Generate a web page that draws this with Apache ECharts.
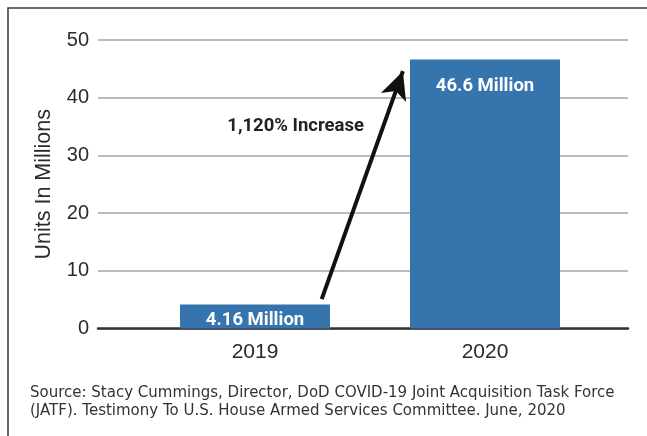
<!DOCTYPE html>
<html>
<head>
<meta charset="utf-8">
<style>
  html, body { margin: 0; padding: 0; background: #ffffff; }
  #chart { width: 647px; height: 436px; }
</style>
<script src="https://cdn.jsdelivr.net/npm/echarts@6/dist/echarts.min.js"></script>
</head>
<body>
<div id="chart"></div>
<script>
// Units delivered, in millions
const years = ['2019', '2020'];
const units = [4.16, 46.6];
const valueLabels = ['4.16 Million', '46.6 Million'];
const yTicks = [0, 10, 20, 30, 40, 50];

// Growth arrow, from the 2019 bar up to the 2020 bar (x in category index, y in millions)
const arrowFrom = [0.29, 5.1];
const arrowTo = [0.643, 44.6];
const arrowText = '1,120% Increase';

const sourceLines = [
  'Source: Stacy Cummings, Director, DoD COVID-19 Joint Acquisition Task Force',
  '(JATF). Testimony To U.S. House Armed Services Committee. June, 2020'
];

const BLUE = '#3674ad';
const TEXT = '#2b2b2b';
const LABEL_FONT = 'Liberation Sans';
const BOLD_FONT = 'Roboto';
const NOTE_FONT = 'DejaVu Sans';

const chart = echarts.init(document.getElementById('chart'), null, { renderer: 'canvas' });

chart.setOption({
  animation: false,
  backgroundColor: '#ffffff',
  grid: { left: 98, right: 19, top: 40, bottom: 107.5, containLabel: false },
  xAxis: {
    type: 'value',
    min: -0.6826,
    max: 1.6217,
    splitLine: { show: false },
    axisTick: { show: false },
    axisLine: { show: true, onZero: false, lineStyle: { color: '#333333', width: 2.5 } },
    axisLabel: {
      customValues: [0, 1],
      formatter: v => years[Math.round(v)] || '',
      color: TEXT,
      fontFamily: LABEL_FONT,
      fontSize: 21,
      margin: 13
    }
  },
  yAxis: {
    type: 'value',
    min: yTicks[0],
    max: yTicks[yTicks.length - 1],
    interval: 10,
    name: 'Units In Millions',
    nameLocation: 'middle',
    nameGap: 43,
    nameTextStyle: { color: TEXT, fontFamily: LABEL_FONT, fontSize: 21.5 },
    axisLine: { show: false },
    axisTick: { show: false },
    axisLabel: { color: TEXT, fontFamily: LABEL_FONT, fontSize: 20, margin: 9 },
    splitLine: {
      show: true,
      lineStyle: { color: '#babac0', width: 2 }
    }
  },
  series: [{
    type: 'bar',
    data: units.map((v, i) => [i, v]),
    barWidth: 150,
    itemStyle: { color: BLUE },
    label: {
      show: true,
      position: 'insideTop',
      formatter: p => valueLabels[p.dataIndex],
      color: '#ffffff',
      fontFamily: BOLD_FONT,
      fontWeight: 'bold',
      fontSize: 18.5
    },
    labelLayout: p => (p.dataIndex === 1 ? { dy: 12 } : { dy: 1 }),
    markLine: {
      silent: true,
      symbol: ['none', 'arrow'],
      symbolSize: [20, 28],
      lineStyle: { color: '#111111', width: 4, type: 'solid' },
      label: { show: false },
      data: [[{ coord: arrowFrom }, { coord: arrowTo }]]
    },
    z: 2
  }],
  graphic: [
    {
      type: 'rect',
      shape: { x: 8, y: 8, width: 700, height: 500 },
      style: { fill: 'none', stroke: '#3a3a3a', lineWidth: 1.5 },
      silent: true,
      z: -1
    },
    {
      type: 'text',
      right: 647 - 364,
      top: 117,
      style: {
        text: arrowText,
        fill: '#222222',
        font: 'bold 18.5px ' + BOLD_FONT
      }
    },
    {
      type: 'text',
      left: 30,
      top: 384,
      style: {
        text: sourceLines.join('\n'),
        fill: '#333333',
        font: '15px ' + NOTE_FONT,
        lineHeight: 18
      }
    }
  ]
});
</script>
</body>
</html>
